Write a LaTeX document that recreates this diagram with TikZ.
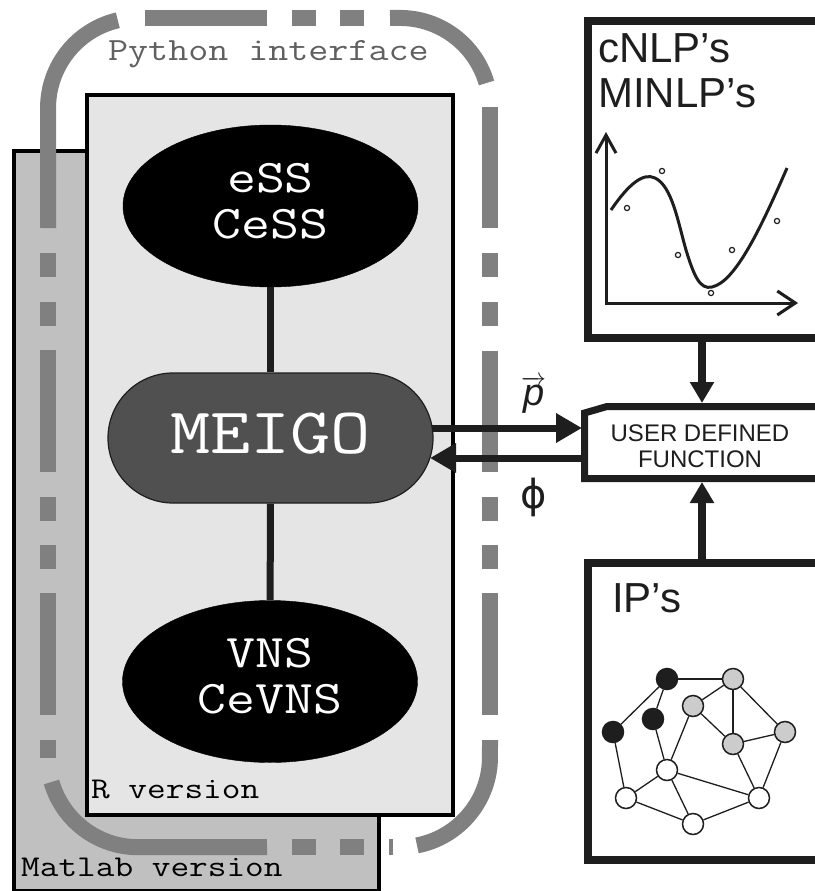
\documentclass[tikz,border=0pt]{standalone}
\usepackage{fontspec}
\usepackage{graphicx}
\setmainfont{Liberation Sans}
\newfontfamily\dejavu{DejaVu Sans}
\usetikzlibrary{arrows.meta,shapes.geometric}
\definecolor{pyg}{RGB}{128,128,128}
\definecolor{matg}{RGB}{192,192,192}
\definecolor{rg}{RGB}{229,229,229}
\definecolor{meig}{RGB}{80,80,80}
\definecolor{ink}{RGB}{30,30,30}
\definecolor{ipgray}{RGB}{204,204,204}
\definecolor{pytext}{RGB}{96,96,96}
\newcommand\monotext[2]{\scalebox{1.2}[1]{\ttfamily\fontsize{#1}{#1}\selectfont #2}}
\newcommand\monotwo[3]{\scalebox{1.2}[1]{\ttfamily\fontsize{#1}{46}\selectfont\begin{tabular}{@{}c@{}}#2\\#3\end{tabular}}}
\begin{document}
\begin{tikzpicture}[x=1pt,y=1pt,yscale=-1,
  pyline/.style={draw=pyg, line width=16pt, line cap=butt},
  bigbox/.style={draw=ink, fill=white, line width=8pt, inner sep=0, anchor=north west},
  algo/.style={ellipse, fill=black, draw=black, minimum width=295pt, minimum height=162pt, inner sep=0, text=white},
  harrow/.style={draw=ink, line width=7pt, -{Triangle[length=26pt,width=28pt]}},
  varrow/.style={draw=ink, line width=8pt, -{Triangle[length=21pt,width=23pt]}},
  link/.style={draw=ink, line width=7pt},
  gnode/.style={circle, draw=ink, line width=1.5pt, minimum size=21pt, inner sep=0},
  gedge/.style={draw=ink, line width=1.3pt},
  lbl/.style={inner sep=0, anchor=base west}
]
\useasboundingbox (0,0) rectangle (814,891);

% Matlab box
\node[draw=black, fill=matg, line width=3.5pt, minimum width=365pt, minimum height=740pt, inner sep=0, anchor=north west] (matlab) at (12,149) {};
\node[lbl] (matlabtxt) at (21,876) {\monotext{30.2}{Matlab version}};

% Python interface border
\draw[pyline] (117.8,20.3) arc[start angle=257, end angle=180, radius=90] -- (48,228);
\draw[pyline] (48,253) -- (48,277);
\draw[pyline] (48,302) -- (48,326);
\draw[pyline] (48,350) -- (48,472);
\draw[pyline] (48,497) -- (48,521);
\draw[pyline] (48,545) -- (48,569);
\draw[pyline] (48,593) -- (48,715);
\draw[pyline] (48,740) -- (48,758);
\draw[pyline] (51.5,782) arc[start angle=164, end angle=90, radius=90] -- (267,847);
\draw[pyline] (292,847) -- (316,847);
\draw[pyline] (340,847) -- (364,847);
\draw[pyline] (389,847) -- (393,847);
\draw[pyline] (417,845.4) arc[start angle=79.1, end angle=0, radius=90] -- (490,740);
\draw[pyline] (490,715) -- (490,593);
\draw[pyline] (490,569) -- (490,545);
\draw[pyline] (490,521) -- (490,497);
\draw[pyline] (490,472) -- (490,351);
\draw[pyline] (490,326) -- (490,302);
\draw[pyline] (490,277) -- (490,253);
\draw[pyline] (490,228) -- (490,107);
\draw[pyline] (486.5,83) arc[start angle=-16.1, end angle=-90, radius=90] -- (390,18);
\draw[pyline] (364,18) -- (340,18);
\draw[pyline] (316,18) -- (292,18);
\draw[pyline] (267,18) -- (145,18);
\node[lbl, text=pytext] (pytxt) at (108,60) {\monotext{32.4}{Python interface}};

% R box
\node[draw=black, fill=rg, line width=4pt, minimum width=365.5pt, minimum height=720.5pt, inner sep=0, anchor=north west] (rbox) at (85,92.5) {};
\node[lbl] (rtxt) at (91,798) {\monotext{30.2}{R version}};

% algorithms
\node[algo] (ess) at (270.5,206) {\monotwo{46.8}{eSS}{CeSS}};
\node[algo] (vns) at (270,681.5) {\monotwo{46.8}{VNS}{CeVNS}};
\node[rounded corners=65pt, fill=meig, draw=ink, line width=1.2pt, minimum width=325pt, minimum height=130pt, inner sep=0, text=white, text depth=10pt] (meigo) at (270.5,438) {\monotext{65}{MEIGO}};
\draw[link] (ess) -- (meigo);
\draw[link] (meigo) -- (vns);

% right-hand boxes
\node[bigbox, minimum width=250pt, minimum height=316.5pt] (cnlp) at (584,17.5) {};
\node[lbl, font=\fontsize{42}{44}\selectfont, text=ink] (cnlptxt) at (598,63) {cNLP’s};
\node[lbl, font=\fontsize{42}{44}\selectfont, text=ink] (minlptxt) at (598,107) {MINLP’s};
\node[bigbox, minimum width=250pt, minimum height=297pt] (ip) at (584,559) {};
\node[lbl, font=\fontsize{42}{44}\selectfont, text=ink] (iptxt) at (612,612) {IP’s};

% user defined function
\draw[draw=ink, fill=white, line width=7pt, line join=miter] (840,406.5) -- (607,406.5) -- (584.5,413) -- (584.5,478.5) -- (840,478.5) -- cycle;
\node[font=\fontsize{24}{26}\selectfont, align=center, text=ink, inner sep=0] (udf) at (700,446) {USER DEFINED\\FUNCTION};
\coordinate (udfT) at (702,403);
\coordinate (udfBot) at (702,482);
\coordinate (udfA) at (582,428);
\coordinate (udfB) at (582,458);
\coordinate (meigoA) at (432,428);
\coordinate (meigoB) at (430,458);
\draw[varrow] (cnlp.south -| udfT) -- (udfT);
\draw[varrow] (ip.north -| udfBot) -- (udfBot);
\draw[harrow] (meigoA) -- (udfA);
\draw[harrow] (udfB) -- (meigoB);
\node[lbl, font=\fontsize{38}{38}\selectfont, text=ink] (plbl) at (521,405) {$\overrightarrow{\mbox{\itshape p}}$};
\node[lbl, font=\dejavu\fontsize{40}{40}\selectfont, text=ink] (philbl) at (520,508) {ϕ};

% plot
\draw[draw=ink, line width=3pt, {Straight Barb[length=18pt,width=20pt]}-{Straight Barb[length=18pt,width=24pt]}] (606,132) -- (606,303) -- (798,303);
\draw[draw=ink, line width=3pt] (611,210) .. controls (628,185) and (643,172) .. (655,178)
  .. controls (672,186) and (678,222) .. (686,250)
  .. controls (694,276) and (700,290) .. (712,287)
  .. controls (735,282) and (760,230) .. (787,168);
\foreach \px/\py in {627/208, 662/171, 678/255, 711/293, 732/250, 777/221}
  \draw[draw=ink, line width=1.2pt, fill=white] (\px,\py) circle[radius=2.6];

% graph
\node[gnode, fill=ink] (b1) at (667,679) {};
\node[gnode, fill=ipgray] (g1) at (733,679) {};
\node[gnode, fill=ipgray] (g2) at (693,706) {};
\node[gnode, fill=ink] (b2) at (653,719) {};
\node[gnode, fill=ink] (b3) at (613,732) {};
\node[gnode, fill=ipgray] (g3) at (785,732) {};
\node[gnode, fill=ipgray] (g4) at (733,744) {};
\node[gnode, fill=white] (w1) at (667,770) {};
\node[gnode, fill=white] (w2) at (626,798) {};
\node[gnode, fill=white] (w3) at (759,798) {};
\node[gnode, fill=white] (w4) at (693,824) {};
\foreach \a/\b in {b1/g1, b1/b3, b1/b2, g1/g2, g1/g4, g1/g3, g2/g4, g2/w1, b2/w1, b3/w2, w1/w2, w1/w4, w1/w3, w2/w4, w4/w3, w3/g3, w3/g4, g4/g3}
  \draw[gedge] (\a) -- (\b);
\end{tikzpicture}
\end{document}
